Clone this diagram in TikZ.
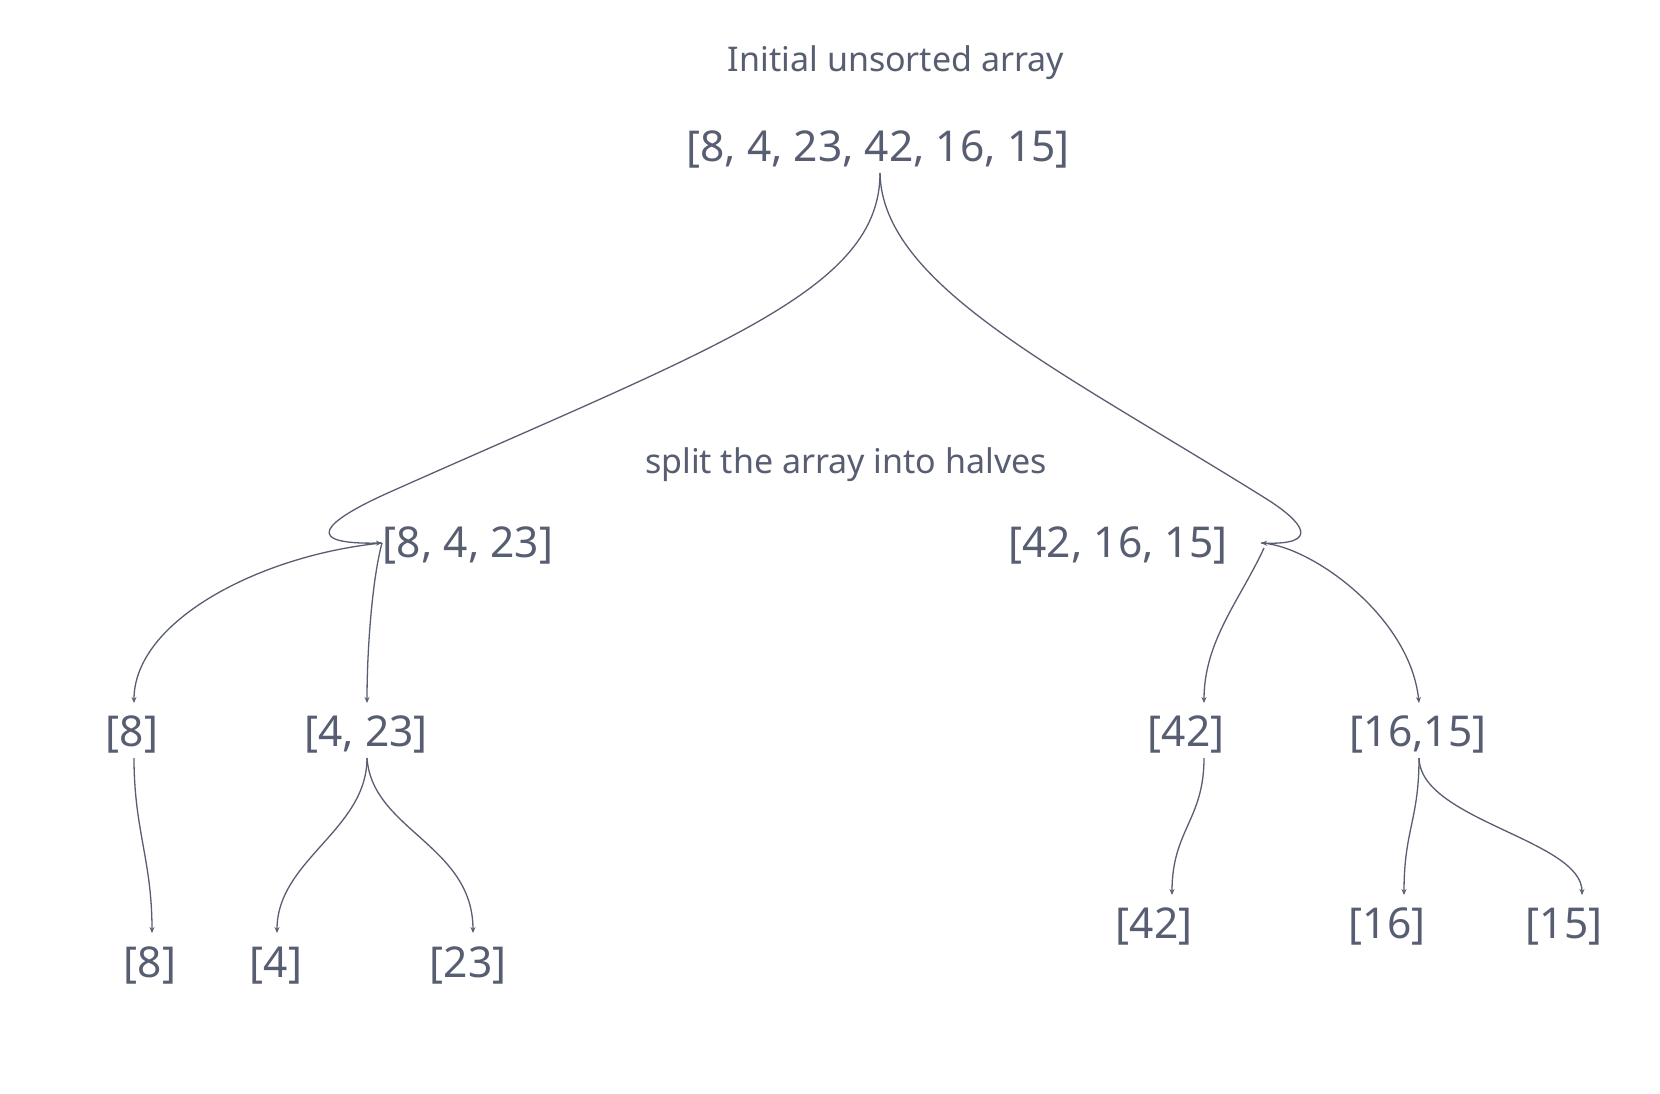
\documentclass[tikz,border=0pt]{standalone}
\usepackage{fontspec}
\setmainfont{Noto Sans}
\usetikzlibrary{calc,arrows.meta}
\definecolor{ink}{RGB}{88,94,114}
\tikzset{
  big/.style={text=ink, font=\fontsize{42.5}{48}\selectfont, inner sep=0pt, anchor=base},
  small/.style={text=ink, font=\fontsize{34}{39}\selectfont, inner sep=0pt, anchor=base},
  link/.style={draw=ink, line width=1.3pt, -{Stealth[length=6pt,width=5pt]}},
  plain/.style={draw=ink, line width=1.3pt}
}
\begin{document}
\begin{tikzpicture}[x=1pt,y=-1pt]
\useasboundingbox (0,0) rectangle (1660,1094);
\fill[white] (0,0) rectangle (1660,1094);
% texts
\node[small] (title) at (896,72) {Initial unsorted array};
\node[big] (top) at (878,162) {[8, 4, 23, 42, 16, 15]};
\node[small] (split) at (846,473) {split the array into halves};
\node[big] (l) at (468,557) {[8, 4, 23]};
\node[big] (r) at (1118,557) {[42, 16, 15]};
\node[big] (m8) at (132,746) {[8]};
\node[big] (m423) at (366,746) {[4, 23]};
\node[big] (m42) at (1186,746) {[42]};
\node[big] (m1615) at (1418,746) {[16,15]};
\node[big] (b8) at (150,977) {[8]};
\node[big] (b4) at (276,977) {[4]};
\node[big] (b23) at (468,977) {[23]};
\node[big] (b42) at (1154,938) {[42]};
\node[big] (b16) at (1387,938) {[16]};
\node[big] (b15) at (1564,938) {[15]};
% junction points
\coordinate (ts) at ($(top.base)+(2,11)$);
\coordinate (lj) at ($(l.base)+(-86,-14)$);
\coordinate (rj) at ($(r.base)+(143,-14)$);
% top split
\draw[link] (ts) .. controls (880,290) and (720,345) .. (390,492)
            .. controls (345,512) and (285,545) .. (lj);
\draw[link] (ts) .. controls (882,285) and (1060,370) .. (1265,498)
            .. controls (1305,523) and (1320,545) .. (rj);
% left second level
\draw[link] (lj) .. controls (260,555) and ($(m8.base)+(2,-125)$) .. ($(m8.base)+(2,-43)$);
\draw[link] (lj) .. controls (372,580) and ($(m423.base)+(1,-95)$) .. ($(m423.base)+(1,-43)$);
% right second level
\draw[link] ($(rj)+(3,5)$) .. controls (1240,600) and ($(m42.base)+(18,-105)$) .. ($(m42.base)+(18,-43)$);
\draw[link] (rj) .. controls (1310,545) and ($(m1615.base)+(-8,-130)$) .. ($(m1615.base)+(1,-43)$);
% left third level
\draw[link] ($(m8.base)+(2,12)$) .. controls (134,830) and (152,860) .. ($(b8.base)+(2,-44)$);
\draw[link] ($(m423.base)+(1,12)$) .. controls (367,830) and (277,860) .. ($(b4.base)+(1,-44)$);
\draw[link] ($(m423.base)+(1,12)$) .. controls (372,830) and (473,845) .. ($(b23.base)+(5,-44)$);
% right third level
\draw[link] ($(m42.base)+(18,12)$) .. controls (1204,820) and (1172,830) .. ($(b42.base)+(18,-43)$);
\draw[link] ($(m1615.base)+(1,12)$) .. controls (1419,820) and (1404,830) .. ($(b16.base)+(17,-43)$);
\draw[link] ($(m1615.base)+(1,12)$) .. controls (1420,820) and (1582,840) .. ($(b15.base)+(18,-43)$);
\end{tikzpicture}
\end{document}
